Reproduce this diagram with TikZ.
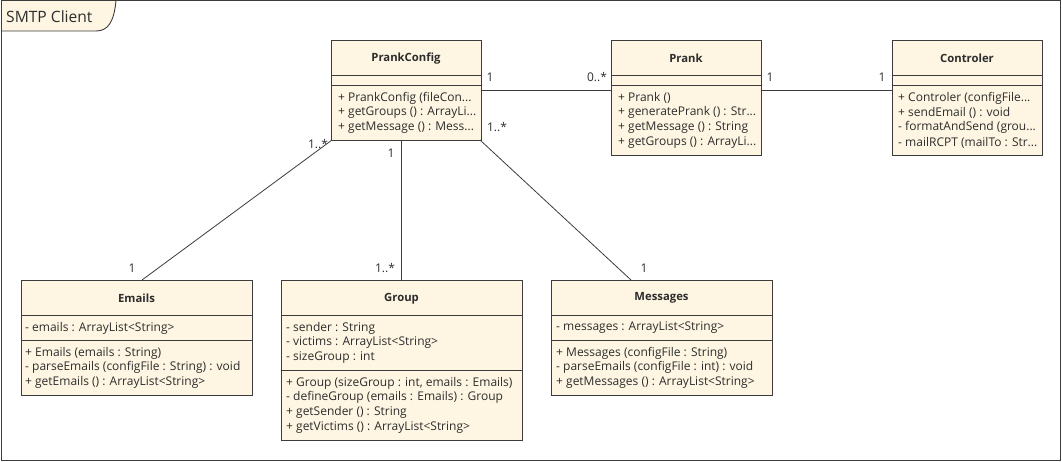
\documentclass[tikz,border=0pt]{standalone}
\usepackage{fontspec}
\setmainfont{Open Sans}
\usetikzlibrary{calc}
\definecolor{cfill}{RGB}{254,246,226}
\definecolor{cline}{RGB}{60,60,60}
\definecolor{ctext}{RGB}{45,45,45}
\begin{document}
\begin{tikzpicture}[x=1pt,y=-1pt,
  cls/.style={draw=cline, fill=cfill, line width=0.9pt, anchor=north west, inner sep=0, outer sep=0},
  sep/.style={draw=cline, line width=0.9pt},
  cname/.style={font=\bfseries\fontsize{11.3}{13}\selectfont, text=ctext, inner sep=0, yshift=-0.8pt},
  mem/.style={font=\fontsize{12}{13}\selectfont, anchor=west, inner sep=0, text=ctext, yshift=-1pt},
  mult/.style={font=\fontsize{12}{13}\selectfont, inner sep=0, text=ctext},
  assoc/.style={draw=cline, line width=0.8pt}]
\useasboundingbox (0,0) rectangle (1062,461);
% frame
\draw[cline, line width=0.9pt] (1.5,0.5) rectangle (1060.5,460.5);
\draw[cline, fill=cfill, line width=0.9pt] (1.5,0.5) -- (116,0.5) .. controls (114,22) and (108,31) .. (96,31) -- (1.5,31) -- cycle;
\node[font=\fontsize{15.6}{17}\selectfont, text=ctext, anchor=west, inner sep=0] (title) at (6,16.5) {SMTP Client};

% PrankConfig
\node[cls, minimum width=150pt, minimum height=100pt] (pc) at (331,40) {};
\draw[sep] ($(pc.north west)+(0,35)$) -- ++(150,0);
\draw[sep] ($(pc.north west)+(0,45)$) -- ++(150,0);
\node[cname] (pcn) at ($(pc.north)+(0,17.5)$) {PrankConfig};
\node[mem] (pc1) at ($(pc.north west)+(7,57)$) {+ PrankConfig (fileCon...};
\node[mem] (pc2) at ($(pc.north west)+(7,71.8)$) {+ getGroups () : ArrayLi...};
\node[mem] (pc3) at ($(pc.north west)+(7,86.6)$) {+ getMessage () : Mess...};

% Prank
\node[cls, minimum width=150pt, minimum height=115pt] (pr) at (611,40) {};
\draw[sep] ($(pr.north west)+(0,35)$) -- ++(150,0);
\draw[sep] ($(pr.north west)+(0,45)$) -- ++(150,0);
\node[cname] (prn) at ($(pr.north)+(0,17.5)$) {Prank};
\node[mem] (pr1) at ($(pr.north west)+(7,57)$) {+ Prank ()};
\node[mem] (pr2) at ($(pr.north west)+(7,71.8)$) {+ generatePrank () : Str...};
\node[mem] (pr3) at ($(pr.north west)+(7,86.6)$) {+ getMessage () : String};
\node[mem] (pr4) at ($(pr.north west)+(7,101.4)$) {+ getGroups () : ArrayLi...};

% Controler
\node[cls, minimum width=150pt, minimum height=115pt] (ct) at (892,40) {};
\draw[sep] ($(ct.north west)+(0,35)$) -- ++(150,0);
\draw[sep] ($(ct.north west)+(0,45)$) -- ++(150,0);
\node[cname] (ctn) at ($(ct.north)+(0,17.5)$) {Controler};
\node[mem] (ct1) at ($(ct.north west)+(6,57)$) {+ Controler (configFile...};
\node[mem] (ct2) at ($(ct.north west)+(6,71.8)$) {+ sendEmail () : void};
\node[mem] (ct3) at ($(ct.north west)+(6,86.6)$) {- formatAndSend (grou...};
\node[mem] (ct4) at ($(ct.north west)+(6,101.4)$) {- mailRCPT (mailTo : Str...};

% Emails
\node[cls, minimum width=231pt, minimum height=115pt] (em) at (21,280) {};
\draw[sep] ($(em.north west)+(0,35)$) -- ++(231,0);
\draw[sep] ($(em.north west)+(0,60)$) -- ++(231,0);
\node[cname] (emn) at ($(em.north)+(0,17.5)$) {Emails};
\node[mem] (em1) at ($(em.north west)+(4,47)$) {- emails : ArrayList<String>};
\node[mem] (em2) at ($(em.north west)+(4,72)$) {+ Emails (emails : String)};
\node[mem] (em3) at ($(em.north west)+(4,86.8)$) {- parseEmails (configFile : String) : void};
\node[mem] (em4) at ($(em.north west)+(4,101.6)$) {+ getEmails () : ArrayList<String>};

% Group
\node[cls, minimum width=241pt, minimum height=160pt] (gr) at (281,280) {};
\draw[sep] ($(gr.north west)+(0,35)$) -- ++(241,0);
\draw[sep] ($(gr.north west)+(0,90)$) -- ++(241,0);
\node[cname] (grn) at ($(gr.north)+(0,17.5)$) {Group};
\node[mem] (gr1) at ($(gr.north west)+(5,47)$) {- sender : String};
\node[mem] (gr2) at ($(gr.north west)+(5,61.8)$) {- victims : ArrayList<String>};
\node[mem] (gr3) at ($(gr.north west)+(5,76.6)$) {- sizeGroup : int};
\node[mem] (gr4) at ($(gr.north west)+(5,102)$) {+ Group (sizeGroup : int, emails : Emails)};
\node[mem] (gr5) at ($(gr.north west)+(5,116.8)$) {- defineGroup (emails : Emails) : Group};
\node[mem] (gr6) at ($(gr.north west)+(5,131.6)$) {+ getSender () : String};
\node[mem] (gr7) at ($(gr.north west)+(5,146.4)$) {+ getVictims () : ArrayList<String>};

% Messages
\node[cls, minimum width=221pt, minimum height=115pt] (ms) at (551,280) {};
\draw[sep] ($(ms.north west)+(0,35)$) -- ++(221,0);
\draw[sep] ($(ms.north west)+(0,60)$) -- ++(221,0);
\node[cname] (msn) at ($(ms.north)+(0,17.5)$) {Messages};
\node[mem] (ms1) at ($(ms.north west)+(5,47)$) {- messages : ArrayList<String>};
\node[mem] (ms2) at ($(ms.north west)+(5,72)$) {+ Messages (configFile : String)};
\node[mem] (ms3) at ($(ms.north west)+(5,86.8)$) {- parseEmails (configFile : int) : void};
\node[mem] (ms4) at ($(ms.north west)+(5,101.6)$) {+ getMessages () : ArrayList<String>};

% connection points
\coordinate (emtop) at ($(em.north west)+(121,0)$);
\coordinate (mstop) at ($(ms.north west)+(80,0)$);
\coordinate (pcsw) at ($(pc.south west)+(1,0)$);
\coordinate (pcse) at ($(pc.south east)+(-1,0)$);

% associations
\draw[assoc] (pc.east) -- (pc.east -| pr.west);
\draw[assoc] (pr.east |- pc.east) -- (ct.west |- pc.east);
\draw[assoc] (pcsw) -- (emtop);
\draw[assoc] (gr.north) -- (gr.north |- pc.south);
\draw[assoc] (pcse) -- (mstop);

% multiplicities
\node[mult] (m1) at (490,77) {1};
\node[mult] (m2) at (597,77) {0..*};
\node[mult] (m3) at (770,77) {1};
\node[mult] (m4) at (882,77) {1};
\node[mult] (m5) at (318,144) {1..*};
\node[mult] (m6) at (132,268) {1};
\node[mult] (m7) at (391,153) {1};
\node[mult] (m8) at (385,268) {1..*};
\node[mult] (m9) at (497,127) {1..*};
\node[mult] (m10) at (644,268) {1};
\end{tikzpicture}
\end{document}
